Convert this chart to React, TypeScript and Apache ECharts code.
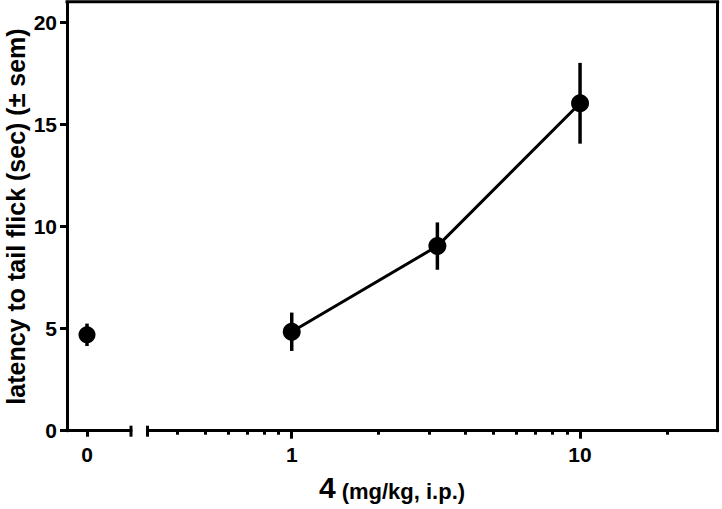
import React, { useEffect, useRef } from "react";
import * as echarts from "echarts";

// ---- data ----
const zeroDose = [0];
const zeroMean = [4.7];
const zeroSem = [0.55];
const doses = [1, 3.2, 10];
const means = [4.85, 9.05, 16.05];
const sems = [0.94, 1.16, 1.98];
const yTicks = [0, 5, 10, 15, 20];
const xZeroTicks = [0];
const xMajorTicks = [1, 10];
const xMinorTicks = [0.4, 0.5, 0.6, 0.7, 0.8, 0.9, 2, 3, 4, 5, 6, 7, 8, 9, 20];
const yTitle = "latency to tail flick (sec) (± sem)";
const xTitleCompound = "4";
const xTitleUnit = "(mg/kg, i.p.)";

const FONT = "Liberation Sans";
const BLACK = "#000";

export default function App() {
  const ref = useRef<HTMLDivElement>(null);
  useEffect(() => {
    const chart = echarts.init(ref.current!, null, { renderer: "svg" });

    const gTop = 2.3;
    const gH = 428.4;
    const g0Left = 67;
    const g0W = 64;
    const g1Left = 147.5;
    const g1W = 570.1;
    const axisY = gTop + gH;
    const lineW = 3;

    const axisLine = { show: true, onZero: false, lineStyle: { color: BLACK, width: lineW } };
    const labelText = {
      show: true,
      color: BLACK,
      fontFamily: FONT,
      fontWeight: "bold",
      fontSize: 21,
    };
    const pick = (allowed: number[]) => (v: number) =>
      allowed.some((a) => Math.abs(a - v) < 1e-6) ? String(Math.round(v)) : "";

    const errRender = (params: any, api: any) => {
      const x = api.value(0);
      const p1 = api.coord([x, api.value(1)]);
      const p2 = api.coord([x, api.value(2)]);
      return {
        type: "line",
        shape: { x1: p1[0], y1: p1[1], x2: p2[0], y2: p2[1] },
        style: { stroke: BLACK, lineWidth: 3.5 },
      };
    };

    const option: any = {
      animation: false,
      backgroundColor: "#fff",
      textStyle: { fontFamily: FONT, fontWeight: "bold" },
      grid: [
        { left: g0Left, top: gTop, width: g0W, height: gH, containLabel: false, outerBoundsMode: "none" },
        { left: g1Left, top: gTop, width: g1W, height: gH, containLabel: false, outerBoundsMode: "none" },
      ],
      xAxis: [
        {
          gridIndex: 0,
          type: "value",
          position: "bottom",
          min: -1,
          max: 2.2,
          interval: 1,
          axisLine,
          axisTick: { show: true, customValues: xZeroTicks, length: 6, lineStyle: { color: BLACK, width: lineW } },
          axisLabel: { ...labelText, margin: 13, formatter: pick(xZeroTicks), hideOverlap: false },
          splitLine: { show: false },
        },
        {
          gridIndex: 1,
          type: "log",
          logBase: 10,
          position: "bottom",
          min: 0.316,
          max: 30,
          axisLine,
          axisTick: { show: true, customValues: xMajorTicks, length: 8, lineStyle: { color: BLACK, width: lineW } },
          axisLabel: { ...labelText, margin: 13, formatter: pick(xMajorTicks), showMinLabel: false, showMaxLabel: false },
          splitLine: { show: false },
          minorTick: { show: false },
        },
        {
          gridIndex: 1,
          type: "log",
          logBase: 10,
          position: "bottom",
          min: 0.316,
          max: 30,
          axisLine: { show: false },
          axisTick: { show: true, customValues: xMinorTicks, length: 4, lineStyle: { color: BLACK, width: lineW } },
          axisLabel: { show: false },
          splitLine: { show: false },
        },
      ],
      yAxis: [
        {
          gridIndex: 0,
          type: "value",
          min: 0,
          max: 21,
          interval: 5,
          axisLine,
          axisTick: { show: true, customValues: yTicks, length: 7, lineStyle: { color: BLACK, width: lineW } },
          axisLabel: { ...labelText, margin: 10, formatter: pick(yTicks) },
          splitLine: { show: false },
          name: yTitle,
          nameLocation: "middle",
          nameGap: 39,
          nameTextStyle: { color: BLACK, fontFamily: FONT, fontWeight: "bold", fontSize: 25 },
        },
        {
          gridIndex: 1,
          type: "value",
          position: "right",
          min: 0,
          max: 21,
          axisLine,
          axisTick: { show: false },
          axisLabel: { show: false },
          splitLine: { show: false },
        },
      ],
      series: [
        {
          type: "custom",
          xAxisIndex: 0,
          yAxisIndex: 0,
          z: 1,
          renderItem: errRender,
          encode: { x: 0, y: [1, 2] },
          data: zeroDose.map((d, i) => [d, zeroMean[i] - zeroSem[i], zeroMean[i] + zeroSem[i]]),
        },
        {
          type: "scatter",
          xAxisIndex: 0,
          yAxisIndex: 0,
          z: 3,
          symbol: "circle",
          symbolSize: 17,
          itemStyle: { color: BLACK, opacity: 1 },
          data: zeroDose.map((d, i) => [d, zeroMean[i]]),
        },
        {
          type: "custom",
          xAxisIndex: 1,
          yAxisIndex: 1,
          z: 1,
          renderItem: errRender,
          encode: { x: 0, y: [1, 2] },
          data: doses.map((d, i) => [d, means[i] - sems[i], means[i] + sems[i]]),
        },
        {
          type: "line",
          xAxisIndex: 1,
          yAxisIndex: 1,
          z: 3,
          symbol: "circle",
          symbolSize: 18,
          showSymbol: true,
          itemStyle: { color: BLACK, opacity: 1 },
          lineStyle: { color: BLACK, width: 3 },
          data: doses.map((d, i) => [d, means[i]]),
        },
      ],
      graphic: [
        {
          type: "line",
          shape: { x1: g0Left - lineW / 2, y1: gTop - 0.5, x2: g1Left + g1W + lineW / 2, y2: gTop - 0.5 },
          style: { stroke: BLACK, lineWidth: lineW },
        },
        {
          type: "line",
          shape: { x1: g0Left + g0W, y1: axisY - 5, x2: g0Left + g0W, y2: axisY + 6 },
          style: { stroke: BLACK, lineWidth: lineW },
        },
        {
          type: "line",
          shape: { x1: g1Left, y1: axisY - 5, x2: g1Left, y2: axisY + 6 },
          style: { stroke: BLACK, lineWidth: lineW },
        },
        {
          type: "text",
          x: 392,
          y: 502,
          style: {
            text: `{a|${xTitleCompound}}{b| ${xTitleUnit}}`,
            align: "center",
            verticalAlign: "bottom",
            fill: BLACK,
            rich: {
              a: { fontSize: 30, fontWeight: "bold", fontFamily: FONT, fill: BLACK, verticalAlign: "bottom" },
              b: { fontSize: 22, fontWeight: "bold", fontFamily: FONT, fill: BLACK, verticalAlign: "bottom" },
            },
          },
        },
      ],
    };
    chart.setOption(option);
    return () => chart.dispose();
  }, []);
  return <div ref={ref} style={{ position: "fixed", left: 0, top: 0, width: 722, height: 509 }} />;
}
